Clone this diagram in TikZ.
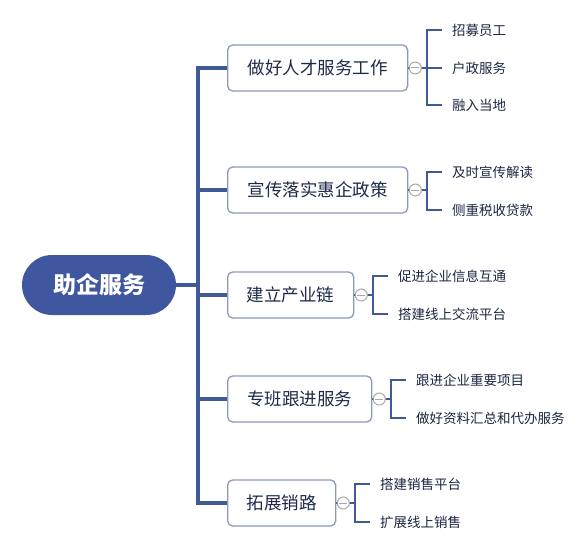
\documentclass[tikz,border=0pt]{standalone}
\usepackage{fontspec}
\setmainfont{Noto Sans CJK SC}
\definecolor{rootc}{HTML}{3F579E}
\definecolor{linec}{HTML}{3F5A96}
\definecolor{boxc}{HTML}{8C99BC}
\definecolor{textc}{HTML}{1F2A48}
\definecolor{circc}{HTML}{A8A8A8}
\begin{document}
\begin{tikzpicture}[x=1pt,y=-1pt,
  rootbox/.style={fill=rootc,draw=none,rounded corners=30pt,minimum width=154pt,minimum height=60pt,text=white,font=\fontsize{23}{26}\selectfont\bfseries,inner sep=0pt},
  branchbox/.style={draw=boxc,line width=1.3pt,fill=white,rounded corners=5pt,minimum height=46pt,anchor=west,text=textc,font=\fontsize{17.5}{20}\selectfont,inner sep=0pt},
  leaf/.style={anchor=west,inner xsep=10pt,inner ysep=0pt,text=textc!90!black,font=\fontsize{13.5}{16}\selectfont},
  trunk/.style={draw=linec,line width=3.2pt},
  twig/.style={draw=linec,line width=2.3pt},
  collapse/.style={circle,draw=circc,fill=white,line width=1pt,minimum size=12pt,inner sep=0pt,path picture={\draw[circc,line width=1pt] ([xshift=-4pt]path picture bounding box.center) -- ([xshift=4pt]path picture bounding box.center);}}
]
\useasboundingbox (0,0) rectangle (584,543);
% root
\node[rootbox] (root) at (99,285) {助企服务};
% trunk coordinates
\coordinate (tr) at (198,285);
\coordinate (t1) at (198,68);
\coordinate (t2) at (198,190);
\coordinate (t3) at (198,295);
\coordinate (t4) at (198,399);
\coordinate (t5) at (198,503);
\draw[trunk] (root.east) -- (tr);
\draw[trunk,line cap=rect] (t1) -- (t5);
% branch boxes
\node[branchbox,minimum width=180pt] (b1) at (227,68) {做好人才服务工作};
\node[branchbox,minimum width=180pt] (b2) at (227,190) {宣传落实惠企政策};
\node[branchbox,minimum width=126pt] (b3) at (227,295) {建立产业链};
\node[branchbox,minimum width=144pt] (b4) at (227,399) {专班跟进服务};
\node[branchbox,minimum width=108pt] (b5) at (227,503) {拓展销路};
\foreach \i in {1,...,5}{\draw[trunk] (t\i) -- (b\i.west);}
% bracket points
\coordinate (k1) at (427,68);
\coordinate (k2) at (427,190);
\coordinate (k3) at (373,295);
\coordinate (k4) at (391,399);
\coordinate (k5) at (355,503);
% leaves
\node[leaf] (c11) at (442,30) {招募员工};
\node[leaf] (c12) at (442,68) {户政服务};
\node[leaf] (c13) at (442,105) {融入当地};
\node[leaf] (c21) at (442,172) {及时宣传解读};
\node[leaf] (c22) at (442,210) {侧重税收贷款};
\node[leaf] (c31) at (388,276) {促进企业信息互通};
\node[leaf] (c32) at (388,314) {搭建线上交流平台};
\node[leaf] (c41) at (406,380) {跟进企业重要项目};
\node[leaf] (c42) at (406,418) {做好资料汇总和代办服务};
\node[leaf] (c51) at (370,484) {搭建销售平台};
\node[leaf] (c52) at (370,522) {扩展线上销售};
% connectors
\draw[twig] (b1.east) -- (k1);
\draw[twig] (b2.east) -- (k2);
\draw[twig] (b3.east) -- (k3);
\draw[twig] (b4.east) -- (k4);
\draw[twig] (b5.east) -- (k5);
\draw[twig] (k1) |- (c11.west);
\draw[twig] (k1) -- (c12.west);
\draw[twig] (k1) |- (c13.west);
\draw[twig] (k2) |- (c21.west);
\draw[twig] (k2) |- (c22.west);
\draw[twig] (k3) |- (c31.west);
\draw[twig] (k3) |- (c32.west);
\draw[twig] (k4) |- (c41.west);
\draw[twig] (k4) |- (c42.west);
\draw[twig] (k5) |- (c51.west);
\draw[twig] (k5) |- (c52.west);
% collapse markers
\node[collapse] (m1) at ([xshift=7pt]b1.east) {};
\node[collapse] (m2) at ([xshift=7pt]b2.east) {};
\node[collapse] (m3) at ([xshift=7pt]b3.east) {};
\node[collapse] (m4) at ([xshift=7pt]b4.east) {};
\node[collapse] (m5) at ([xshift=7pt]b5.east) {};
\end{tikzpicture}
\end{document}
